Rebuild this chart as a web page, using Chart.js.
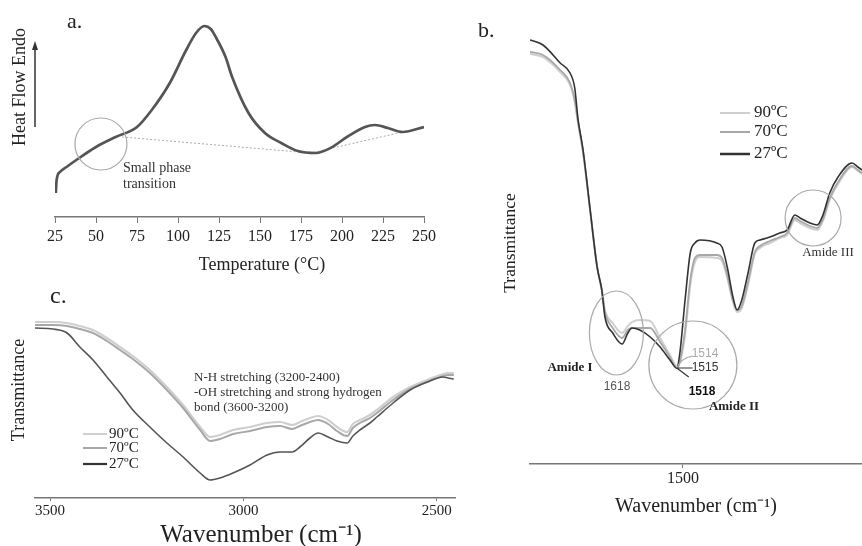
<!DOCTYPE html>
<html>
<head>
<meta charset="utf-8">
<script src="https://cdn.jsdelivr.net/npm/chart.js@4.4.1/dist/chart.umd.min.js"></script>
<style>
  body { margin: 0; background: #fff; width: 862px; height: 546px; position: relative; overflow: hidden; }
  canvas { position: absolute; }
</style>
</head>
<body>
<canvas id="dsc" width="440" height="280" style="left:0;top:0"></canvas>
<canvas id="ftirB" width="392" height="546" style="left:470px;top:0"></canvas>
<canvas id="ftirC" width="470" height="266" style="left:0;top:280px"></canvas>
<script>
// a. DSC curve (heat flow in arbitrary units)
const dscTemp = [25.5, 26, 28, 32, 38, 50, 62, 75, 84, 95, 105, 111, 116, 120, 123, 129, 133, 143, 153, 163, 173, 184, 193, 203, 214, 220, 228, 237, 250];
const dscHeat = [24, 37, 45, 50, 57, 70, 80, 90, 107, 134, 167, 184, 191, 188, 180, 160, 140, 104, 84, 74, 66, 64, 69, 80, 90, 92, 89, 85, 90];
const dscBaseTemp = [66, 181, 237];
const dscBaseHeat = [80, 64, 85];
const dscTicks = [25, 50, 75, 100, 125, 150, 175, 200, 225, 250];

// b. FTIR fingerprint region (transmittance, arbitrary units)
const waveB = [1794, 1769, 1736, 1717, 1708, 1702, 1692, 1679, 1665, 1656, 1650, 1635, 1617, 1606, 1598, 1583, 1563, 1544, 1525, 1512,
  1506, 1496, 1486, 1477, 1467, 1435, 1425, 1415, 1404, 1396, 1387, 1375, 1362, 1352, 1333, 1314, 1300, 1285, 1275, 1256,
  1242, 1231, 1218, 1202, 1175, 1164, 1156];
const b27 = [424, 419, 401, 391, 376, 346, 314, 257, 197, 174, 147, 131, 120, 131, 136, 134, 127, 117, 104, 96,
  111, 164, 211, 221, 224, 221, 217, 197, 167, 154, 164, 191, 221, 224, 227, 231, 234, 249, 246, 241,
  239, 249, 271, 287, 301, 297, 294];
const b70 = [412, 409, 394, 381, 364, 343, 312, 256, 197, 174, 152, 136, 126, 134, 136, 136, 136, 122, 107, 96,
  102, 134, 184, 206, 209, 209, 206, 189, 164, 154, 158, 182, 212, 218, 223, 227, 231, 246, 243, 238,
  236, 245, 266, 282, 298, 294, 291];
const b90 = [410, 407, 392, 379, 362, 342, 311, 256, 197, 174, 154, 141, 131, 138, 142, 144, 143, 126, 109, 98,
  102, 129, 179, 202, 207, 206, 203, 186, 162, 152, 156, 179, 210, 216, 221, 226, 229, 244, 241, 236,
  234, 243, 264, 280, 297, 293, 290];
const ticksB = [1500];

// c. FTIR N-H / O-H region
const waveC = [3539, 3492, 3456, 3423, 3389, 3353, 3319, 3286, 3242, 3198, 3156, 3112, 3086, 3061, 3027, 2983, 2939, 2905, 2874, 2854,
  2828, 2807, 2781, 2758, 2732, 2717, 2699, 2673, 2655, 2613, 2569, 2525, 2484, 2471, 2456];
const c27 = [170, 169, 165, 151, 138, 121, 105, 88, 71, 55, 41, 25, 18, 20, 25, 33, 43, 46, 46, 51,
  60, 65, 61, 57, 55, 62, 68, 75, 81, 95, 108, 116, 121, 120, 119];
const c70 = [173, 173, 172, 169, 165, 157, 148, 139, 125, 108, 90, 68, 57, 59, 64, 67, 71, 72, 69, 72,
  76, 78, 74, 67, 62, 70, 75, 80, 85, 98, 109, 116, 122, 123, 123];
const c90 = [176, 176, 175, 172, 168, 160, 151, 142, 128, 111, 93, 71, 61, 63, 68, 71, 75, 76, 73, 76,
  80, 82, 78, 71, 66, 74, 78, 83, 88, 101, 111, 118, 124, 125, 125];
const ticksC = [3500, 3000, 2500];

const seriesNames = ['90ºC', '70ºC', '27ºC'];
const seriesColors = ['#cfcfcf', '#a8a8a8', '#333333'];

const SERIF = "'Liberation Serif', 'Times New Roman', serif";
const SANS = "'Liberation Sans', Arial, sans-serif";

function pts(xs, ys) {
  return xs.map((x, i) => ({ x: x, y: ys[i] }));
}

function txt(ctx, s, x, y, font, color, align, base) {
  ctx.save();
  ctx.font = font;
  ctx.fillStyle = color || '#222';
  ctx.textAlign = align || 'left';
  ctx.textBaseline = base || 'middle';
  ctx.fillText(s, x, y);
  ctx.restore();
}

function vtxt(ctx, s, x, y, font) {
  ctx.save();
  ctx.translate(x, y);
  ctx.rotate(-Math.PI / 2);
  txt(ctx, s, 0, 0, font, '#222', 'center', 'middle');
  ctx.restore();
}

function legend(ctx, x0, x1, tx, ys, font, widths) {
  for (let i = 0; i < seriesNames.length; i++) {
    ctx.save();
    ctx.strokeStyle = seriesColors[i];
    ctx.lineWidth = widths[i];
    ctx.beginPath();
    ctx.moveTo(x0, ys[i]);
    ctx.lineTo(x1, ys[i]);
    ctx.stroke();
    ctx.restore();
    txt(ctx, seriesNames[i], tx, ys[i], font, '#222');
  }
}

function ring(ctx, cx, cy, rx, ry, color) {
  ctx.save();
  ctx.strokeStyle = color || '#aaa';
  ctx.lineWidth = 1.2;
  ctx.beginPath();
  ctx.ellipse(cx, cy, rx, ry, 0, 0, Math.PI * 2);
  ctx.stroke();
  ctx.restore();
}

function xAxis(extra) {
  return Object.assign({
    type: 'linear',
    grid: { drawOnChartArea: false, drawTicks: true, tickLength: 5, color: '#777' },
    border: { color: '#777', width: 1.5 },
    ticks: { font: { family: SERIF, size: 16 }, color: '#222', padding: 3, maxRotation: 0, autoSkip: false, callback: v => String(v) }
  }, extra);
}

function options(padding, x, yMax) {
  return {
    responsive: false,
    animation: false,
    layout: { padding: padding },
    plugins: { legend: { display: false }, tooltip: { enabled: false } },
    elements: { point: { radius: 0 }, line: { cubicInterpolationMode: 'monotone' } },
    scales: { x: x, y: { display: false, min: 0, max: yMax } }
  };
}

// ---------- a. ----------
const dscExtras = {
  id: 'dscExtras',
  afterDraw(chart) {
    const ctx = chart.ctx, xs = chart.scales.x, ys = chart.scales.y;
    txt(ctx, 'a.', 67, 28, '22px ' + SERIF, '#222', 'left', 'alphabetic');
    vtxt(ctx, 'Heat Flow Endo', 20, 87, '18px ' + SERIF);
    ctx.save();
    ctx.strokeStyle = '#333';
    ctx.fillStyle = '#333';
    ctx.lineWidth = 1.5;
    ctx.beginPath();
    ctx.moveTo(35, 127);
    ctx.lineTo(35, 48);
    ctx.stroke();
    ctx.beginPath();
    ctx.moveTo(35, 41);
    ctx.lineTo(32, 50);
    ctx.lineTo(38, 50);
    ctx.closePath();
    ctx.fill();
    ctx.restore();
    ring(ctx, xs.getPixelForValue(53), ys.getPixelForValue(73), 26, 26, '#aaa');
    txt(ctx, 'Small phase', 123, 168, '14px ' + SERIF, '#333');
    txt(ctx, 'transition', 123, 184, '14px ' + SERIF, '#333');
    txt(ctx, 'Temperature (°C)', 262, 265, '18px ' + SERIF, '#222', 'center');
  }
};

new Chart(document.getElementById('dsc'), {
  type: 'line',
  data: {
    datasets: [
      { data: pts(dscTemp, dscHeat), borderColor: '#555', borderWidth: 2.7, fill: false },
      { data: pts(dscBaseTemp, dscBaseHeat), borderColor: '#aaa', borderWidth: 1, borderDash: [2, 2], fill: false, cubicInterpolationMode: 'default', tension: 0 }
    ]
  },
  options: options({ left: 55, right: 13, top: 15, bottom: 0 }, xAxis({
    min: 25, max: 250,
    afterBuildTicks: s => { s.ticks = dscTicks.map(v => ({ value: v })); },
    afterFit: s => { s.height = 63; },
    grid: { drawOnChartArea: false, drawTicks: true, tickLength: 6, color: '#777' },
    ticks: { font: { family: SERIF, size: 16 }, color: '#222', padding: 4, maxRotation: 0, autoSkip: false, callback: v => String(v) }
  }), 202),
  plugins: [dscExtras]
});

// ---------- b. ----------
const ftirBExtras = {
  id: 'ftirBExtras',
  afterDraw(chart) {
    const ctx = chart.ctx, xs = chart.scales.x, ys = chart.scales.y;
    txt(ctx, 'b.', 8, 37, '22px ' + SERIF, '#222', 'left', 'alphabetic');
    vtxt(ctx, 'Transmittance', 40, 243, '17.5px ' + SERIF);
    legend(ctx, 250, 280, 284, [113, 132, 154], '17px ' + SERIF, [2, 2, 2.5]);
    ring(ctx, xs.getPixelForValue(1628), ys.getPixelForValue(131), 27, 42);
    ring(ctx, xs.getPixelForValue(1481), ys.getPixelForValue(99), 44, 44);
    ring(ctx, xs.getPixelForValue(1250), ys.getPixelForValue(246), 28, 28);
    // leader lines from the Amide II minimum
    const ax = xs.getPixelForValue(1512), ay = ys.getPixelForValue(96);
    ctx.save();
    ctx.lineWidth = 1.2;
    ctx.strokeStyle = '#aaa';
    ctx.beginPath();
    ctx.moveTo(ax, ay);
    ctx.quadraticCurveTo(ax + 4, ay - 10, ax + 16, ay - 12);
    ctx.stroke();
    ctx.strokeStyle = '#333';
    ctx.beginPath();
    ctx.moveTo(ax, ay);
    ctx.lineTo(ax + 16, ay);
    ctx.moveTo(ax, ay);
    ctx.lineTo(ax + 12, ay + 9);
    ctx.stroke();
    ctx.restore();
    txt(ctx, 'Amide I', 100, 368, 'bold 13px ' + SERIF, '#222', 'center');
    txt(ctx, '1618', 147, 387, '12px ' + SANS, '#555', 'center');
    txt(ctx, '1514', 235, 354, '12px ' + SANS, '#aaa', 'center');
    txt(ctx, '1515', 235, 368, '12px ' + SANS, '#333', 'center');
    txt(ctx, '1518', 232, 392, 'bold 12px ' + SANS, '#111', 'center');
    txt(ctx, 'Amide II', 264, 407, 'bold 13px ' + SERIF, '#222', 'center');
    txt(ctx, 'Amide III', 358, 253, '13px ' + SERIF, '#333', 'center');
  }
};

new Chart(document.getElementById('ftirB'), {
  type: 'line',
  data: {
    datasets: [
      { data: pts(waveB, b27), borderColor: seriesColors[2], borderWidth: 1.6, fill: false },
      { data: pts(waveB, b70), borderColor: seriesColors[1], borderWidth: 1.8, fill: false },
      { data: pts(waveB, b90), borderColor: seriesColors[0], borderWidth: 2, fill: false }
    ]
  },
  options: options({ left: 60, right: 0, top: 30, bottom: 0 }, xAxis({
    min: 1156, max: 1794, reverse: true,
    afterBuildTicks: s => { s.ticks = ticksB.map(v => ({ value: v })); },
    afterFit: s => { s.height = 82; },
    grid: { drawOnChartArea: false, drawTicks: true, tickLength: 4, color: '#777' },
    ticks: { font: { family: SERIF, size: 16 }, color: '#222', padding: 1, maxRotation: 0, autoSkip: false, callback: v => String(v) },
    title: { display: true, text: 'Wavenumber (cm⁻¹)', color: '#222', font: { family: SERIF, size: 20, lineHeight: 1 }, padding: { top: 0, bottom: 29 } }
  }), 434),
  plugins: [ftirBExtras]
});

// ---------- c. ----------
const ftirCExtras = {
  id: 'ftirCExtras',
  afterDraw(chart) {
    const ctx = chart.ctx;
    txt(ctx, 'c.', 50, 23, '24px ' + SERIF, '#222', 'left', 'alphabetic');
    vtxt(ctx, 'Transmittance', 19, 110, '18px ' + SERIF);
    legend(ctx, 83, 107, 109, [154, 168, 184], '15px ' + SERIF, [2, 2, 2.2]);
    txt(ctx, 'N-H stretching (3200-2400)', 194, 98, '13px ' + SERIF, '#333');
    txt(ctx, '-OH stretching and strong hydrogen', 194, 113, '13px ' + SERIF, '#333');
    txt(ctx, 'bond (3600-3200)', 194, 128, '13px ' + SERIF, '#333');
    txt(ctx, 'Wavenumber (cm⁻¹)', 261, 255, '25px ' + SERIF, '#222', 'center');
  }
};

new Chart(document.getElementById('ftirC'), {
  type: 'line',
  data: {
    datasets: [
      { data: pts(waveC, c27), borderColor: '#555', borderWidth: 1.6, fill: false },
      { data: pts(waveC, c70), borderColor: seriesColors[1], borderWidth: 2, fill: false },
      { data: pts(waveC, c90), borderColor: seriesColors[0], borderWidth: 2.2, fill: false }
    ]
  },
  options: options({ left: 35, right: 15, top: 30, bottom: 0 }, xAxis({
    min: 2453, max: 3539, reverse: true,
    afterBuildTicks: s => { s.ticks = ticksC.map(v => ({ value: v })); },
    afterFit: s => { s.height = 48; },
    grid: { drawOnChartArea: false, drawTicks: true, tickLength: 3, color: '#777' },
    ticks: { font: { family: SERIF, size: 15 }, color: '#222', padding: 1, maxRotation: 0, autoSkip: false, callback: v => String(v) }
  }), 188),
  plugins: [ftirCExtras]
});
</script>
</body>
</html>
